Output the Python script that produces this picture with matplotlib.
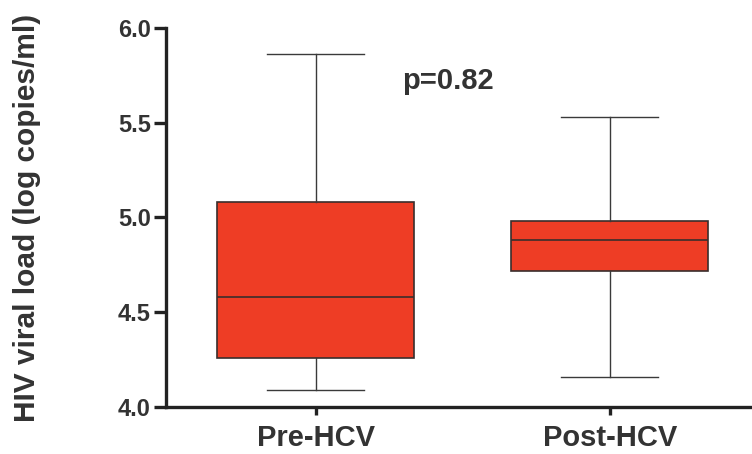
import matplotlib
matplotlib.use("Agg")
import matplotlib.pyplot as plt

# values (log copies/ml)
groups = ["Pre-HCV", "Post-HCV"]
whisker_low = [4.09, 4.16]
quartile1 = [4.26, 4.72]
medians = [4.58, 4.88]
quartile3 = [5.08, 4.98]
whisker_high = [5.86, 5.53]
y_ticks = [4.0, 4.5, 5.0, 5.5, 6.0]
p_text = "p=0.82"

plt.rcParams["font.family"] = ["Liberation Sans", "DejaVu Sans"]
plt.rcParams["font.weight"] = "bold"

ink = "#333333"
fill = "#EE3D25"

fig = plt.figure(figsize=(7.52, 4.54), dpi=100)
ax = fig.add_axes([0.2207, 0.1035, 0.7793, 0.835])

stats = []
for i, g in enumerate(groups):
    stats.append({"label": g, "whislo": whisker_low[i], "q1": quartile1[i],
                  "med": medians[i], "q3": quartile3[i], "whishi": whisker_high[i],
                  "fliers": []})

ax.bxp(stats, positions=[1, 2], widths=0.67, capwidths=0.33, patch_artist=True,
       showfliers=False,
       boxprops=dict(facecolor=fill, edgecolor="#3a2e2c", linewidth=1.2),
       medianprops=dict(color="#3a2e2c", linewidth=1.2),
       whiskerprops=dict(color="#3a3a3a", linewidth=1.0),
       capprops=dict(color="#3a3a3a", linewidth=1.0))

ax.set_xlim(0.49, 2.483)
ax.set_ylim(4.0, 6.0)
ax.set_yticks(y_ticks)
ax.set_yticklabels([f"{t:.1f}" for t in y_ticks])
ax.set_xticks([1, 2])
ax.set_xticklabels(groups)

for side in ["top", "right"]:
    ax.spines[side].set_visible(False)
for side in ["left", "bottom"]:
    ax.spines[side].set_linewidth(2.4)
    ax.spines[side].set_color("#222222")

ax.tick_params(axis="y", length=9, width=2.4, color="#222222", labelsize=17,
               labelcolor=ink, pad=2)
ax.tick_params(axis="x", length=6, width=2.4, color="#222222", labelsize=21,
               labelcolor=ink, pad=6)

ax.set_ylabel("HIV viral load (log copies/ml)", fontsize=21.5, color=ink,
              fontweight="bold")
ax.yaxis.set_label_coords(-0.213, 0.5)

ax.text(1.449, 5.72, p_text, fontsize=21, fontweight="bold", color=ink,
        ha="center", va="center")

fig.savefig("out.png", dpi=100)
